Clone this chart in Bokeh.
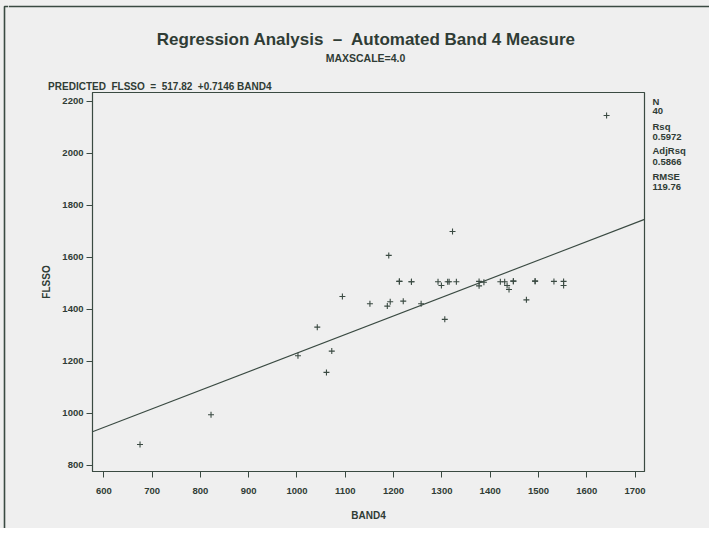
from bokeh.plotting import figure
from bokeh.models import Label, Range1d, LinearAxis, FixedTicker, AllLabels
from bokeh.layouts import column, row
from bokeh.embed import file_html
from bokeh.resources import INLINE

# ---- data ----
band4 = [675, 822, 1002, 1042, 1061, 1072, 1094, 1151, 1187, 1193,
         1190, 1212, 1212, 1220, 1237, 1237, 1257, 1292, 1299, 1306,
         1312, 1315, 1322, 1330, 1377, 1377, 1387, 1421, 1430, 1435,
         1439, 1448, 1448, 1475, 1493, 1493, 1532, 1552, 1552, 1641]
flsso = [881, 995, 1222, 1332, 1158, 1240, 1450, 1422, 1413, 1430,
         1608, 1508, 1508, 1432, 1507, 1507, 1422, 1507, 1492, 1362,
         1507, 1507, 1700, 1507, 1508, 1491, 1505, 1507, 1507, 1492,
         1477, 1509, 1509, 1437, 1509, 1509, 1508, 1508, 1492, 2146]
intercept = 517.82
slope = 0.7146
x_ticks = [600, 700, 800, 900, 1000, 1100, 1200, 1300, 1400, 1500, 1600, 1700]
y_ticks = [800, 1000, 1200, 1400, 1600, 1800, 2000, 2200]
stats_texts = ["N", "40", "Rsq", "0.5972", "AdjRsq", "0.5866", "RMSE", "119.76"]
title_text = "Regression Analysis \u00a0\u2013\u00a0 Automated Band 4 Measure"
subtitle_text = "MAXSCALE=4.0"
equation_text = "PREDICTED \u00a0FLSSO \u00a0= \u00a0517.82 \u00a0+0.7146 BAND4"
x_title = "BAND4"
y_title = "FLSSO"

# ---- layout (pixel positions on the picture) ----
W, H = 709, 528
STRIP = 8                                  # left strip holding the page border
HEAD = 91                                  # header strip height
FL, FR, FT, FB = 92, 644, 92, 471          # frame edges
X0, X1 = 576.6, 1719.5
Y0, Y1 = 776.9, 2234.6
BG = "#efefef"
INK = "#2f3c35"
LINE = "#3a4a42"
FONT = "Liberation Sans"

def Y(py):
    return Y0 + (FB - py) * (Y1 - Y0) / (FB - FT)

def blank(fig):
    fig.background_fill_color = BG
    fig.border_fill_color = BG
    fig.outline_line_color = None
    fig.grid.grid_line_color = None

# left strip with the page border line
strip = figure(width=STRIP, height=H, x_range=Range1d(0, STRIP), y_range=Range1d(H, 0),
               output_backend="svg", toolbar_location=None, title=None,
               x_axis_type=None, y_axis_type=None,
               min_border_left=0, min_border_right=0, min_border_top=0, min_border_bottom=0)
blank(strip)
strip.line([4, 4, STRIP], [H, 6, 6], line_color=LINE, line_width=1.6)

# header with titles: its frame covers the whole strip, data units = pixels
head = figure(width=W - STRIP, height=HEAD, x_range=Range1d(STRIP, W), y_range=Range1d(HEAD, 0),
              output_backend="svg", toolbar_location=None, title=None,
              x_axis_type=None, y_axis_type=None,
              min_border_left=0, min_border_right=0, min_border_top=0, min_border_bottom=0)
blank(head)
head.line([STRIP, W], [6, 6], line_color=LINE, line_width=1.6)

def lab(px, py, text, size, align="left"):
    head.add_layout(Label(x=px, y=py, text=text, text_font=FONT,
                          text_font_size=size, text_font_style="bold",
                          text_color=INK, text_align=align,
                          text_baseline="middle"))

lab(366, 38.5, title_text, "17px", align="center")
lab(365, 57, subtitle_text, "10.5px", align="center")
lab(47.6, 85.5, equation_text, "10px")

# main chart
MH = H - HEAD
p = figure(width=W - STRIP, height=MH, x_range=Range1d(X0, X1), y_range=Range1d(Y0, Y1),
           output_backend="svg", toolbar_location=None, title=None,
           min_border_left=FL - STRIP, min_border_right=W - FR,
           min_border_top=FT - HEAD, min_border_bottom=H - FB)
p.background_fill_color = BG
p.border_fill_color = BG
p.outline_line_color = LINE
p.outline_line_width = 1.2
p.grid.grid_line_color = None

for ax in (p.xaxis, p.yaxis):
    ax.axis_line_color = LINE
    ax.major_tick_line_color = LINE
    ax.minor_tick_line_color = None
    ax.major_tick_in = 0
    ax.major_tick_out = 6
    ax.major_label_text_font = FONT
    ax.major_label_text_font_style = "bold"
    ax.major_label_text_font_size = "9.5px"
    ax.major_label_text_color = INK
    ax.axis_label_text_font = FONT
    ax.axis_label_text_font_style = "bold"
    ax.axis_label_text_font_size = "10px"
    ax.axis_label_text_color = INK
p.xaxis.ticker = x_ticks
p.yaxis.ticker = y_ticks
p.xaxis.major_label_standoff = 10
p.yaxis.major_label_standoff = 3
p.xaxis.axis_label = x_title
p.yaxis.axis_label = y_title
p.xaxis.axis_label_standoff = 13
p.yaxis.axis_label_standoff = 7

# statistics column on the right, as labels of a tick-less axis
stat_pos = [101, 110.5, 126, 136, 150.5, 160.5, 175.5, 186]
stat_vals = [round(Y(v), 3) for v in stat_pos]
stats_axis = LinearAxis(ticker=FixedTicker(ticks=stat_vals),
                        major_label_overrides=dict(zip(stat_vals, stats_texts)),
                        major_label_policy=AllLabels(),
                        axis_line_color=None, major_tick_line_color=None,
                        minor_tick_line_color=None, major_tick_in=0, major_tick_out=0,
                        major_label_standoff=8,
                        major_label_text_font=FONT, major_label_text_font_style="bold",
                        major_label_text_font_size="9.5px", major_label_text_color=INK)
p.add_layout(stats_axis, "right")

# regression line across the frame
p.line([X0, X1], [intercept + slope * X0, intercept + slope * X1],
       line_color=LINE, line_width=1.1)
p.scatter(band4, flsso, marker="cross", size=6, line_color=LINE, line_width=1.1)

layout = row(strip, column(row(head, spacing=0), p, spacing=0), spacing=0)
layout.styles = {"background-color": BG}
open("out.html", "w").write(file_html(layout, INLINE))
